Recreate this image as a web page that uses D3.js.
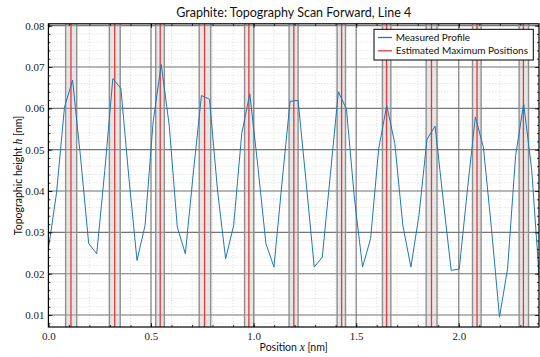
<!DOCTYPE html>
<html>
<head>
<meta charset="utf-8">
<script src="https://cdn.jsdelivr.net/npm/d3@7"></script>
<style>
body { margin: 0; background: #fff; }
svg { display: block; }
</style>
</head>
<body>
<svg id="chart" width="540" height="357"></svg>
<script>
// scan samples, spacing in nm
var sampleStep = 0.03926;
var heights = [0.026, 0.0394, 0.0603, 0.0668, 0.048, 0.0273, 0.0248, 0.045, 0.0672, 0.0648,
    0.043, 0.0232, 0.0317, 0.0567, 0.0706, 0.0559, 0.0313, 0.0248, 0.0446, 0.0631,
    0.0622, 0.040, 0.0236, 0.0317, 0.0539, 0.0635, 0.046, 0.0273, 0.0216, 0.042,
    0.0617, 0.0619, 0.042, 0.0216, 0.0240, 0.044, 0.0640, 0.0598, 0.038, 0.0216,
    0.0285, 0.0502, 0.0607, 0.0515, 0.0317, 0.0216, 0.0341, 0.0525, 0.0557, 0.038,
    0.0208, 0.0211, 0.040, 0.0579, 0.0506, 0.0309, 0.0095, 0.0212, 0.0486, 0.0611,
    0.045, 0.017];

// estimated maxima and their uncertainty bands
var peakPos = [0.110, 0.323, 0.545, 0.761, 0.977, 1.196, 1.429, 1.648, 1.867, 2.089, 2.315];
var bandLo  = [0.084, 0.297, 0.523, 0.735, 0.956, 1.173, 1.407, 1.628, 1.841, 2.067, 2.294];
var bandHi  = [0.138, 0.350, 0.565, 0.791, 1.001, 1.217, 1.448, 1.669, 1.894, 2.109, 2.340];

var xTicks = [0, 0.5, 1.0, 1.5, 2.0];
var xTickLabels = ['0.0', '0.5', '1.0', '1.5', '2.0'];
var yTicks = [0.01, 0.02, 0.03, 0.04, 0.05, 0.06, 0.07, 0.08];
var yTickLabels = ['0.01', '0.02', '0.03', '0.04', '0.05', '0.06', '0.07', '0.08'];

var profile = heights.map(function (h, i) { return { x: i * sampleStep, y: h }; });

var pL = 48.4, pR = 539, pT = 23.8, pB = 327;

var x = d3.scaleLinear().domain([0, 2.391]).range([pL, pR]);
var y = d3.scaleLinear().domain([0.0071, 0.08045]).range([pB, pT]);

var svg = d3.select('#chart');
var serif = '"Liberation Serif", "DejaVu Serif", serif';
var sans = 'Lato, "Open Sans", sans-serif';

svg.append('defs').append('clipPath').attr('id', 'plotclip')
    .append('rect')
    .attr('x', pL).attr('y', pT)
    .attr('width', pR - pL).attr('height', pB - pT);

var plot = svg.append('g').attr('clip-path', 'url(#plotclip)');

// minor grid (dotted)
var xMinor = d3.range(0, 2.4, 0.1);
var yMinor = d3.range(0.008, 0.0805, 0.002);
plot.append('g').selectAll('line').data(xMinor).join('line')
    .attr('x1', d => x(d)).attr('x2', d => x(d))
    .attr('y1', pT).attr('y2', pB)
    .attr('stroke', '#cfcfcf').attr('stroke-width', 0.8)
    .attr('stroke-dasharray', '1,2');
plot.append('g').selectAll('line').data(yMinor).join('line')
    .attr('x1', pL).attr('x2', pR)
    .attr('y1', d => y(d)).attr('y2', d => y(d))
    .attr('stroke', '#cfcfcf').attr('stroke-width', 0.8)
    .attr('stroke-dasharray', '1,2');

// major grid
plot.append('g').selectAll('line').data(xTicks).join('line')
    .attr('x1', d => x(d)).attr('x2', d => x(d))
    .attr('y1', pT).attr('y2', pB)
    .attr('stroke', '#777').attr('stroke-width', 1.1);
plot.append('g').selectAll('line').data(yTicks).join('line')
    .attr('x1', pL).attr('x2', pR)
    .attr('y1', d => y(d)).attr('y2', d => y(d))
    .attr('stroke', '#777').attr('stroke-width', 1.1);

// bands
var bands = plot.append('g');
peakPos.forEach(function (p, i) {
    bands.append('rect')
        .attr('x', x(bandLo[i])).attr('y', pT)
        .attr('width', x(bandHi[i]) - x(bandLo[i])).attr('height', pB - pT)
        .attr('fill', '#c4c4c4').attr('fill-opacity', 0.4);
    [bandLo[i], bandHi[i]].forEach(function (e) {
        bands.append('line')
            .attr('x1', x(e)).attr('x2', x(e))
            .attr('y1', pT).attr('y2', pB)
            .attr('stroke', '#8f8f8f').attr('stroke-width', 1.4);
    });
});

// red maxima lines
plot.append('g').selectAll('line').data(peakPos).join('line')
    .attr('x1', d => x(d)).attr('x2', d => x(d))
    .attr('y1', pT).attr('y2', pB)
    .attr('stroke', '#e23a3a').attr('stroke-width', 1.3);

// measured profile
plot.append('path')
    .datum(profile)
    .attr('fill', 'none')
    .attr('stroke', '#1f77b4')
    .attr('stroke-width', 1)
    .attr('d', d3.line().x(d => x(d.x)).y(d => y(d.y)));

// axes, ticks inward on all four sides
function styleAxis(g) {
    g.select('.domain').remove();
    g.selectAll('.tick line').attr('stroke', '#000').attr('stroke-width', 0.8);
    g.selectAll('.tick text').attr('font-family', serif).attr('font-size', '11px').attr('fill', '#222');
}

svg.append('g').attr('transform', 'translate(0,' + pB + ')')
    .call(d3.axisBottom(x).tickValues(xTicks).tickSize(-4).tickPadding(5)
        .tickFormat((d, i) => xTickLabels[i]))
    .call(styleAxis);
svg.append('g').attr('transform', 'translate(0,' + pB + ')')
    .call(d3.axisBottom(x).tickValues(xMinor).tickSize(-2).tickFormat(''))
    .call(styleAxis);
svg.append('g').attr('transform', 'translate(0,' + pT + ')')
    .call(d3.axisTop(x).tickValues(xTicks).tickSize(-4).tickFormat(''))
    .call(styleAxis);
svg.append('g').attr('transform', 'translate(0,' + pT + ')')
    .call(d3.axisTop(x).tickValues(xMinor).tickSize(-2).tickFormat(''))
    .call(styleAxis);

svg.append('g').attr('transform', 'translate(' + pL + ',0)')
    .call(d3.axisLeft(y).tickValues(yTicks).tickSize(-4).tickPadding(4)
        .tickFormat((d, i) => yTickLabels[i]))
    .call(styleAxis);
svg.append('g').attr('transform', 'translate(' + pL + ',0)')
    .call(d3.axisLeft(y).tickValues(yMinor).tickSize(-2).tickFormat(''))
    .call(styleAxis);
svg.append('g').attr('transform', 'translate(' + pR + ',0)')
    .call(d3.axisRight(y).tickValues(yTicks).tickSize(-4).tickFormat(''))
    .call(styleAxis);
svg.append('g').attr('transform', 'translate(' + pR + ',0)')
    .call(d3.axisRight(y).tickValues(yMinor).tickSize(-2).tickFormat(''))
    .call(styleAxis);

// frame
svg.append('rect')
    .attr('x', pL).attr('y', pT)
    .attr('width', pR - pL).attr('height', pB - pT)
    .attr('fill', 'none').attr('stroke', '#000').attr('stroke-width', 1.2);

// title and labels
svg.append('text')
    .attr('x', (pL + pR) / 2).attr('y', 17)
    .attr('text-anchor', 'middle')
    .attr('font-family', sans).attr('font-size', '12.5px').attr('fill', '#111')
    .text('Graphite:  Topography Scan Forward, Line 4');

var xl = svg.append('text')
    .attr('x', (pL + pR) / 2).attr('y', 351)
    .attr('text-anchor', 'middle')
    .attr('font-family', sans).attr('font-size', '10.5px').attr('fill', '#111');
xl.append('tspan').text('Position ');
xl.append('tspan').attr('font-family', serif).attr('font-style', 'italic').attr('font-size', '11.5px').text('x');
xl.append('tspan').text(' [nm]');

var yl = svg.append('text')
    .attr('transform', 'translate(22,' + ((pT + pB) / 2) + ') rotate(-90)')
    .attr('text-anchor', 'middle')
    .attr('font-family', sans).attr('font-size', '10.5px').attr('fill', '#111');
yl.append('tspan').text('Topographic height ');
yl.append('tspan').attr('font-family', serif).attr('font-style', 'italic').attr('font-size', '11.5px').text('h');
yl.append('tspan').text(' [nm]');

// legend
var legend = svg.append('g');
legend.append('rect')
    .attr('x', 374).attr('y', 29.3).attr('width', 159.3).attr('height', 30.7)
    .attr('fill', '#fff').attr('stroke', '#000').attr('stroke-width', 1);
var entries = [
    { label: 'Measured Profile', color: '#1f77b4', width: 1.3 },
    { label: 'Estimated Maximum Positions', color: '#e23a3a', width: 1.3 }
];
entries.forEach(function (e, i) {
    var cy = 37.5 + i * 13.3;
    legend.append('line')
        .attr('x1', 378).attr('x2', 392).attr('y1', cy).attr('y2', cy)
        .attr('stroke', e.color).attr('stroke-width', e.width);
    legend.append('text')
        .attr('x', 395.7).attr('y', cy + 3.6)
        .attr('font-family', sans).attr('font-size', '10px').attr('fill', '#111')
        .text(e.label);
});
</script>
</body>
</html>
